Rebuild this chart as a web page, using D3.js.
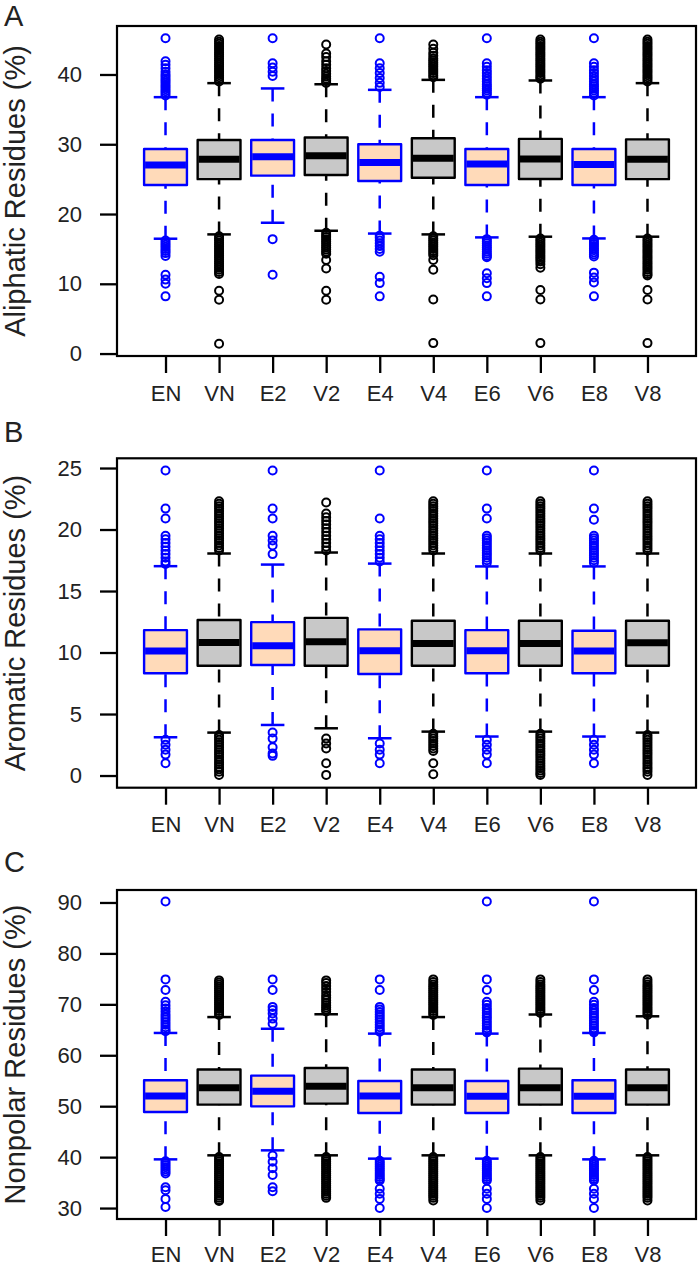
<!DOCTYPE html>
<html>
<head>
<meta charset="utf-8">
<script src="https://cdn.jsdelivr.net/npm/d3@7"></script>
<style>
  html, body { margin: 0; padding: 0; background: #fff; }
  svg { display: block; }
  text { font-family: "Liberation Sans", Arial, Helvetica, sans-serif; fill: #222; }
</style>
</head>
<body>
<svg id="chart" width="700" height="1267"></svg>
<script>
// ---------------- DATA ----------------
const categories = ["EN", "VN", "E2", "V2", "E4", "V4", "E6", "V6", "E8", "V8"];
const groupKind = ["E", "V", "E", "V", "E", "V", "E", "V", "E", "V"];

// Panel A: Aliphatic residues (%)
const aliphaticTicks = [0, 10, 20, 30, 40];
const aliphaticLowWhisker = [16.46, 17.08, 18.75, 17.6, 17.2, 17.08, 16.65, 16.75, 16.5, 16.75];
const aliphaticQ1 = [24.16, 25.0, 25.5, 25.6, 24.74, 25.2, 24.16, 25.02, 24.16, 25.0];
const aliphaticMedian = [27.03, 27.85, 28.2, 28.37, 27.4, 27.99, 27.18, 27.9, 27.1, 27.85];
const aliphaticQ3 = [29.33, 30.6, 30.6, 30.96, 30.0, 30.86, 29.33, 30.77, 29.33, 30.7];
const aliphaticHighWhisker = [36.75, 38.76, 38.0, 38.6, 37.8, 39.23, 36.75, 39.14, 36.75, 38.76];
const aliphaticOutliers = [
  [45.2, 41.9, 41.4, 40.9, 40.4, 40.0, 39.7, 39.4, 39.1, 38.8, 38.5, 38.2, 37.9, 37.6, 37.3, 37.0, 16.2, 15.9, 15.6, 15.3, 15.0, 14.7, 14.4, 14.0, 11.3, 10.6, 10.0, 8.2],
  [45.0, 44.7, 44.4, 44.1, 43.8, 43.5, 43.2, 42.9, 42.6, 42.3, 42.0, 41.7, 41.4, 41.1, 40.8, 40.5, 40.2, 39.9, 39.6, 39.3, 39.0, 16.8, 16.5, 16.2, 15.9, 15.6, 15.3, 15.0, 14.7, 14.4, 14.1, 13.8, 13.5, 13.2, 12.9, 12.6, 12.3, 12.0, 11.7, 11.4, 9.0, 7.7, 1.4],
  [45.2, 41.6, 41.0, 40.4, 39.8, 16.4, 11.3],
  [44.3, 43.0, 42.5, 41.9, 41.4, 40.9, 40.5, 40.1, 39.7, 39.4, 39.1, 38.8, 17.3, 17.0, 16.7, 16.4, 16.1, 15.8, 15.5, 15.2, 14.9, 14.6, 14.3, 13.4, 12.2, 9.0, 7.7],
  [45.2, 41.6, 40.9, 40.2, 39.5, 38.8, 38.2, 16.9, 16.6, 16.2, 15.8, 15.4, 15.0, 14.6, 11.0, 10.1, 8.2],
  [44.3, 43.7, 43.1, 42.7, 42.3, 42.0, 41.7, 41.4, 41.1, 40.8, 40.5, 40.2, 39.9, 39.6, 16.8, 16.5, 16.2, 15.9, 15.6, 15.3, 15.0, 14.7, 14.4, 14.1, 13.4, 12.0, 7.75, 1.5],
  [45.2, 41.6, 41.1, 40.6, 40.2, 39.8, 39.4, 39.0, 38.6, 38.3, 38.0, 37.7, 37.4, 37.1, 16.4, 16.1, 15.8, 15.5, 15.2, 14.9, 14.6, 14.3, 14.0, 13.8, 11.5, 10.8, 10.1, 8.2],
  [45.0, 44.7, 44.4, 44.1, 43.8, 43.5, 43.2, 42.9, 42.6, 42.3, 42.0, 41.7, 41.4, 41.1, 40.8, 40.5, 40.2, 39.9, 39.6, 39.4, 16.5, 16.2, 15.9, 15.6, 15.3, 15.0, 14.7, 14.4, 14.1, 13.8, 13.5, 13.2, 12.8, 12.3, 9.1, 7.75, 1.5],
  [45.2, 41.6, 41.1, 40.6, 40.2, 39.8, 39.4, 39.0, 38.6, 38.3, 38.0, 37.7, 37.4, 37.0, 16.3, 16.0, 15.7, 15.4, 15.1, 14.8, 14.5, 14.2, 13.9, 11.6, 10.9, 10.2, 8.2],
  [45.0, 44.7, 44.4, 44.1, 43.8, 43.5, 43.2, 42.9, 42.6, 42.3, 42.0, 41.7, 41.4, 41.1, 40.8, 40.5, 40.2, 39.9, 39.6, 39.3, 39.0, 16.5, 16.2, 15.9, 15.6, 15.3, 15.0, 14.7, 14.4, 14.1, 13.8, 13.5, 13.2, 12.9, 12.6, 12.3, 12.0, 11.7, 11.4, 11.2, 9.1, 7.75, 1.5]
];

// Panel B: Aromatic residues (%)
const aromaticTicks = [0, 5, 10, 15, 20, 25];
const aromaticLowWhisker = [3.11, 3.49, 4.11, 3.84, 3.03, 3.57, 3.17, 3.57, 3.17, 3.49];
const aromaticQ1 = [8.31, 8.93, 8.98, 8.93, 8.25, 8.93, 8.31, 8.93, 8.31, 8.93];
const aromaticMedian = [10.12, 10.82, 10.55, 10.88, 10.15, 10.74, 10.15, 10.74, 10.12, 10.8];
const aromaticQ3 = [11.82, 12.64, 12.47, 12.82, 11.88, 12.58, 11.82, 12.58, 11.77, 12.58];
const aromaticHighWhisker = [17.02, 18.05, 17.15, 18.13, 17.23, 18.05, 17.0, 18.05, 17.0, 18.05];
const aromaticOutliers = [
  [24.8, 21.7, 20.9, 19.5, 19.2, 18.9, 18.6, 18.3, 18.0, 17.7, 17.4, 17.2, 2.9, 2.5, 2.1, 1.7, 1.0],
  [22.3, 22.1, 21.9, 21.7, 21.5, 21.3, 21.1, 20.9, 20.7, 20.5, 20.3, 20.1, 19.9, 19.7, 19.5, 19.3, 19.1, 18.9, 18.7, 18.5, 18.3, 3.3, 3.1, 2.9, 2.7, 2.5, 2.3, 2.1, 1.9, 1.7, 1.5, 1.3, 1.1, 0.9, 0.7, 0.5, 0.3, 0.05],
  [24.8, 21.7, 20.9, 19.5, 19.1, 18.7, 18.0, 3.5, 3.0, 2.3, 1.8, 1.6],
  [22.2, 21.3, 21.0, 20.7, 20.4, 20.1, 19.8, 19.5, 19.2, 18.9, 18.6, 18.3, 3.0, 2.6, 2.2, 1.0, 0.05],
  [24.8, 20.9, 19.5, 19.2, 18.9, 18.6, 18.3, 18.0, 17.7, 17.4, 2.6, 2.1, 1.7, 1.0],
  [22.3, 22.1, 21.9, 21.7, 21.5, 21.3, 21.1, 20.9, 20.7, 20.5, 20.3, 20.1, 19.9, 19.7, 19.5, 19.3, 19.1, 18.9, 18.7, 18.5, 18.3, 3.4, 3.2, 3.0, 2.8, 2.6, 2.4, 2.2, 2.0, 1.0, 0.1],
  [24.8, 21.7, 20.9, 19.5, 19.3, 19.1, 18.9, 18.7, 18.5, 18.3, 18.1, 17.9, 17.7, 17.5, 17.3, 2.9, 2.5, 2.1, 1.7, 1.0],
  [22.3, 22.1, 21.9, 21.7, 21.5, 21.3, 21.1, 20.9, 20.7, 20.5, 20.3, 20.1, 19.9, 19.7, 19.5, 19.3, 19.1, 18.9, 18.7, 18.5, 18.3, 3.4, 3.2, 3.0, 2.8, 2.6, 2.4, 2.2, 2.0, 1.8, 1.6, 1.4, 1.2, 1.0, 0.8, 0.6, 0.4, 0.2, 0.05],
  [24.8, 21.7, 20.8, 19.5, 19.3, 19.1, 18.9, 18.7, 18.5, 18.3, 18.1, 17.9, 17.7, 17.5, 17.3, 2.9, 2.5, 2.1, 1.7, 1.0],
  [22.3, 22.1, 21.9, 21.7, 21.5, 21.3, 21.1, 20.9, 20.7, 20.5, 20.3, 20.1, 19.9, 19.7, 19.5, 19.3, 19.1, 18.9, 18.7, 18.5, 18.3, 3.3, 3.1, 2.9, 2.7, 2.5, 2.3, 2.1, 1.9, 1.7, 1.5, 1.3, 1.1, 0.9, 0.7, 0.5, 0.3, 0.05]
];

// Panel C: Nonpolar residues (%)
const nonpolarTicks = [30, 40, 50, 60, 70, 80, 90];
const nonpolarLowWhisker = [39.56, 40.35, 41.33, 40.35, 39.7, 40.35, 39.7, 40.35, 39.56, 40.35];
const nonpolarQ1 = [48.86, 50.3, 49.97, 50.5, 48.66, 50.3, 48.66, 50.3, 48.66, 50.3];
const nonpolarMedian = [52.0, 53.64, 52.92, 53.9, 52.0, 53.6, 51.94, 53.64, 51.94, 53.64];
const nonpolarQ3 = [55.08, 57.2, 56.0, 57.5, 54.95, 57.2, 54.95, 57.37, 55.08, 57.2];
const nonpolarHighWhisker = [64.38, 67.5, 65.2, 68.05, 64.25, 67.5, 64.25, 68.0, 64.38, 67.65];
const nonpolarOutliers = [
  [90.2, 74.9, 72.8, 70.5, 69.8, 69.2, 68.6, 68.0, 67.5, 67.0, 66.5, 66.0, 65.5, 65.0, 64.7, 39.2, 38.8, 38.4, 38.0, 37.6, 37.2, 36.8, 34.1, 33.5, 31.8, 30.2],
  [74.7, 74.3, 73.9, 73.5, 73.1, 72.7, 72.3, 71.9, 71.5, 71.1, 70.7, 70.3, 69.9, 69.5, 69.1, 68.7, 68.3, 67.9, 40.0, 39.6, 39.2, 38.8, 38.4, 38.0, 37.6, 37.2, 36.8, 36.4, 36.0, 35.6, 35.2, 34.8, 34.4, 34.0, 33.6, 33.2, 32.8, 32.4, 32.0, 31.6, 31.4],
  [74.9, 72.8, 69.5, 68.9, 68.2, 67.2, 66.2, 40.3, 39.1, 37.8, 36.5, 34.1, 33.3],
  [74.7, 74.2, 73.6, 73.0, 72.4, 71.8, 71.3, 70.8, 70.3, 69.8, 69.4, 69.0, 68.6, 40.0, 39.6, 39.2, 38.8, 38.4, 38.0, 37.6, 37.2, 36.8, 36.4, 36.0, 35.6, 35.2, 34.8, 34.4, 34.0, 33.6, 33.2, 32.8, 32.4, 32.0],
  [74.9, 72.8, 69.5, 69.0, 68.5, 68.0, 67.5, 67.0, 66.5, 66.0, 65.5, 65.0, 64.6, 39.3, 38.9, 38.5, 38.1, 37.7, 37.3, 36.9, 36.5, 36.1, 35.7, 35.4, 33.8, 32.8, 31.8, 30.0],
  [74.9, 74.4, 73.9, 73.5, 73.1, 72.7, 72.3, 71.9, 71.5, 71.1, 70.7, 70.3, 69.9, 69.5, 69.1, 68.7, 68.3, 67.9, 40.0, 39.6, 39.2, 38.8, 38.4, 38.0, 37.6, 37.2, 36.8, 36.4, 36.0, 35.6, 35.2, 34.8, 34.4, 34.0, 33.6, 33.2, 32.8, 32.4, 32.0, 31.5],
  [90.2, 74.9, 72.8, 70.5, 69.9, 69.3, 68.8, 68.3, 67.8, 67.3, 66.8, 66.3, 65.8, 65.3, 64.8, 64.5, 39.3, 38.9, 38.5, 38.1, 37.7, 37.3, 36.9, 36.5, 36.1, 35.7, 35.4, 33.8, 32.8, 31.8, 30.0],
  [74.9, 74.4, 73.9, 73.5, 73.1, 72.7, 72.3, 71.9, 71.5, 71.1, 70.7, 70.3, 69.9, 69.5, 69.1, 68.7, 68.3, 40.0, 39.6, 39.2, 38.8, 38.4, 38.0, 37.6, 37.2, 36.8, 36.4, 36.0, 35.6, 35.2, 34.8, 34.4, 34.0, 33.6, 33.2, 32.8, 32.4, 32.0, 31.5],
  [90.2, 74.9, 72.8, 70.5, 69.9, 69.3, 68.8, 68.3, 67.8, 67.3, 66.8, 66.3, 65.8, 65.3, 64.8, 64.5, 39.3, 38.9, 38.5, 38.1, 37.7, 37.3, 36.9, 36.5, 36.1, 35.7, 35.4, 33.8, 32.8, 31.8, 30.0],
  [74.9, 74.4, 73.9, 73.5, 73.1, 72.7, 72.3, 71.9, 71.5, 71.1, 70.7, 70.3, 69.9, 69.5, 69.1, 68.7, 68.3, 67.9, 40.0, 39.6, 39.2, 38.8, 38.4, 38.0, 37.6, 37.2, 36.8, 36.4, 36.0, 35.6, 35.2, 34.8, 34.4, 34.0, 33.6, 33.2, 32.8, 32.4, 32.0, 31.5]
];

const panelLetters = ["A", "B", "C"];
const panelTitles = ["Aliphatic Residues (%)", "Aromatic Residues (%)", "Nonpolar Residues (%)"];

// ---------------- LAYOUT / STYLE ----------------
const svg = d3.select("#chart");
const plotLeft = 117, plotRight = 696;
const colors = {
  E: { stroke: "#0000FF", fill: "#FFDAB9" },
  V: { stroke: "#000000", fill: "#C8C8C8" }
};

const panels = [
  { letter: panelLetters[0], title: panelTitles[0], top: 26, bottom: 356, domain: [-0.35, 46.95], letterY: 26, xPad: 12,
    ticks: aliphaticTicks, lo: aliphaticLowWhisker, q1: aliphaticQ1, med: aliphaticMedian, q3: aliphaticQ3, hi: aliphaticHighWhisker, out: aliphaticOutliers },
  { letter: panelLetters[1], title: panelTitles[1], top: 458.3, bottom: 787.7, domain: [-0.99, 25.79], letterY: 442, xPad: 12,
    ticks: aromaticTicks, lo: aromaticLowWhisker, q1: aromaticQ1, med: aromaticMedian, q3: aromaticQ3, hi: aromaticHighWhisker, out: aromaticOutliers },
  { letter: panelLetters[2], title: panelTitles[2], top: 890, bottom: 1219, domain: [27.85, 92.45], letterY: 872, xPad: 10,
    ticks: nonpolarTicks, lo: nonpolarLowWhisker, q1: nonpolarQ1, med: nonpolarMedian, q3: nonpolarQ3, hi: nonpolarHighWhisker, out: nonpolarOutliers }
];

const x = d3.scalePoint().domain(categories).range([plotLeft, plotRight]).padding(0.906);
const step = x.step();
const boxW = step * 0.8;
const capW = boxW * 0.55;

panels.forEach(p => {
  const y = d3.scaleLinear().domain(p.domain).range([p.bottom, p.top]);
  const g = svg.append("g");

  // panel letter
  g.append("text").attr("x", 4).attr("y", p.letterY)
    .style("font-size", "29px").text(p.letter);

  // y-axis title
  g.append("text")
    .attr("transform", `translate(25,${(p.top + p.bottom) / 2}) rotate(-90)`)
    .attr("text-anchor", "middle")
    .style("font-size", "29px")
    .text(p.title);

  // Y axis
  const yAxis = d3.axisLeft(y).tickValues(p.ticks).tickSize(17).tickPadding(18).tickFormat(d3.format("d"));
  const ya = g.append("g").attr("transform", `translate(${plotLeft},0)`).call(yAxis);
  ya.select(".domain").remove();
  ya.selectAll(".tick line").attr("stroke", "#000").attr("stroke-width", 2.3);
  ya.selectAll(".tick text").style("font-size", "22px").attr("fill", "#222")
    .style("font-family", '"Liberation Sans", Arial, sans-serif');

  // X axis
  const xAxis = d3.axisBottom(x).tickSize(17).tickPadding(p.xPad);
  const xa = g.append("g").attr("transform", `translate(0,${p.bottom})`).call(xAxis);
  xa.select(".domain").remove();
  xa.selectAll(".tick line").attr("stroke", "#000").attr("stroke-width", 2.3);
  xa.selectAll(".tick text").style("font-size", "22px").attr("fill", "#222")
    .style("font-family", '"Liberation Sans", Arial, sans-serif');

  const items = categories.map((c, i) => ({
    cat: c, kind: groupKind[i], lo: p.lo[i], q1: p.q1[i], med: p.med[i], q3: p.q3[i], hi: p.hi[i], out: p.out[i]
  }));

  const bg = g.append("g");
  items.forEach(d => {
    const cx = x(d.cat);
    const col = colors[d.kind];
    const b = bg.append("g");
    // whiskers (dashed, drawn from whisker end toward box)
    b.append("line").attr("x1", cx).attr("x2", cx).attr("y1", y(d.hi)).attr("y2", y(d.q3))
      .attr("stroke", col.stroke).attr("stroke-width", 2.5).attr("stroke-dasharray", "13,12");
    b.append("line").attr("x1", cx).attr("x2", cx).attr("y1", y(d.lo)).attr("y2", y(d.q1))
      .attr("stroke", col.stroke).attr("stroke-width", 2.5).attr("stroke-dasharray", "13,12");
    // staples
    [d.hi, d.lo].forEach(v => {
      b.append("line").attr("x1", cx - capW / 2).attr("x2", cx + capW / 2)
        .attr("y1", y(v)).attr("y2", y(v))
        .attr("stroke", col.stroke).attr("stroke-width", 2.5);
    });
    // outliers
    b.selectAll("circle").data(d.out).join("circle")
      .attr("cx", cx).attr("cy", v => y(v)).attr("r", 4)
      .attr("fill", "none").attr("stroke", col.stroke).attr("stroke-width", 2);
    // box
    b.append("rect").attr("x", cx - boxW / 2).attr("width", boxW)
      .attr("y", y(d.q3)).attr("height", y(d.q1) - y(d.q3))
      .attr("fill", col.fill).attr("stroke", col.stroke).attr("stroke-width", 2.4)
      .attr("stroke-linejoin", "round");
    // median
    b.append("line").attr("x1", cx - boxW / 2 + 1).attr("x2", cx + boxW / 2 - 1)
      .attr("y1", y(d.med)).attr("y2", y(d.med))
      .attr("stroke", col.stroke).attr("stroke-width", 7);
  });

  // frame
  g.append("rect").attr("x", plotLeft).attr("y", p.top)
    .attr("width", plotRight - plotLeft).attr("height", p.bottom - p.top)
    .attr("fill", "none").attr("stroke", "#000").attr("stroke-width", 2.2);
});
</script>
</body>
</html>
